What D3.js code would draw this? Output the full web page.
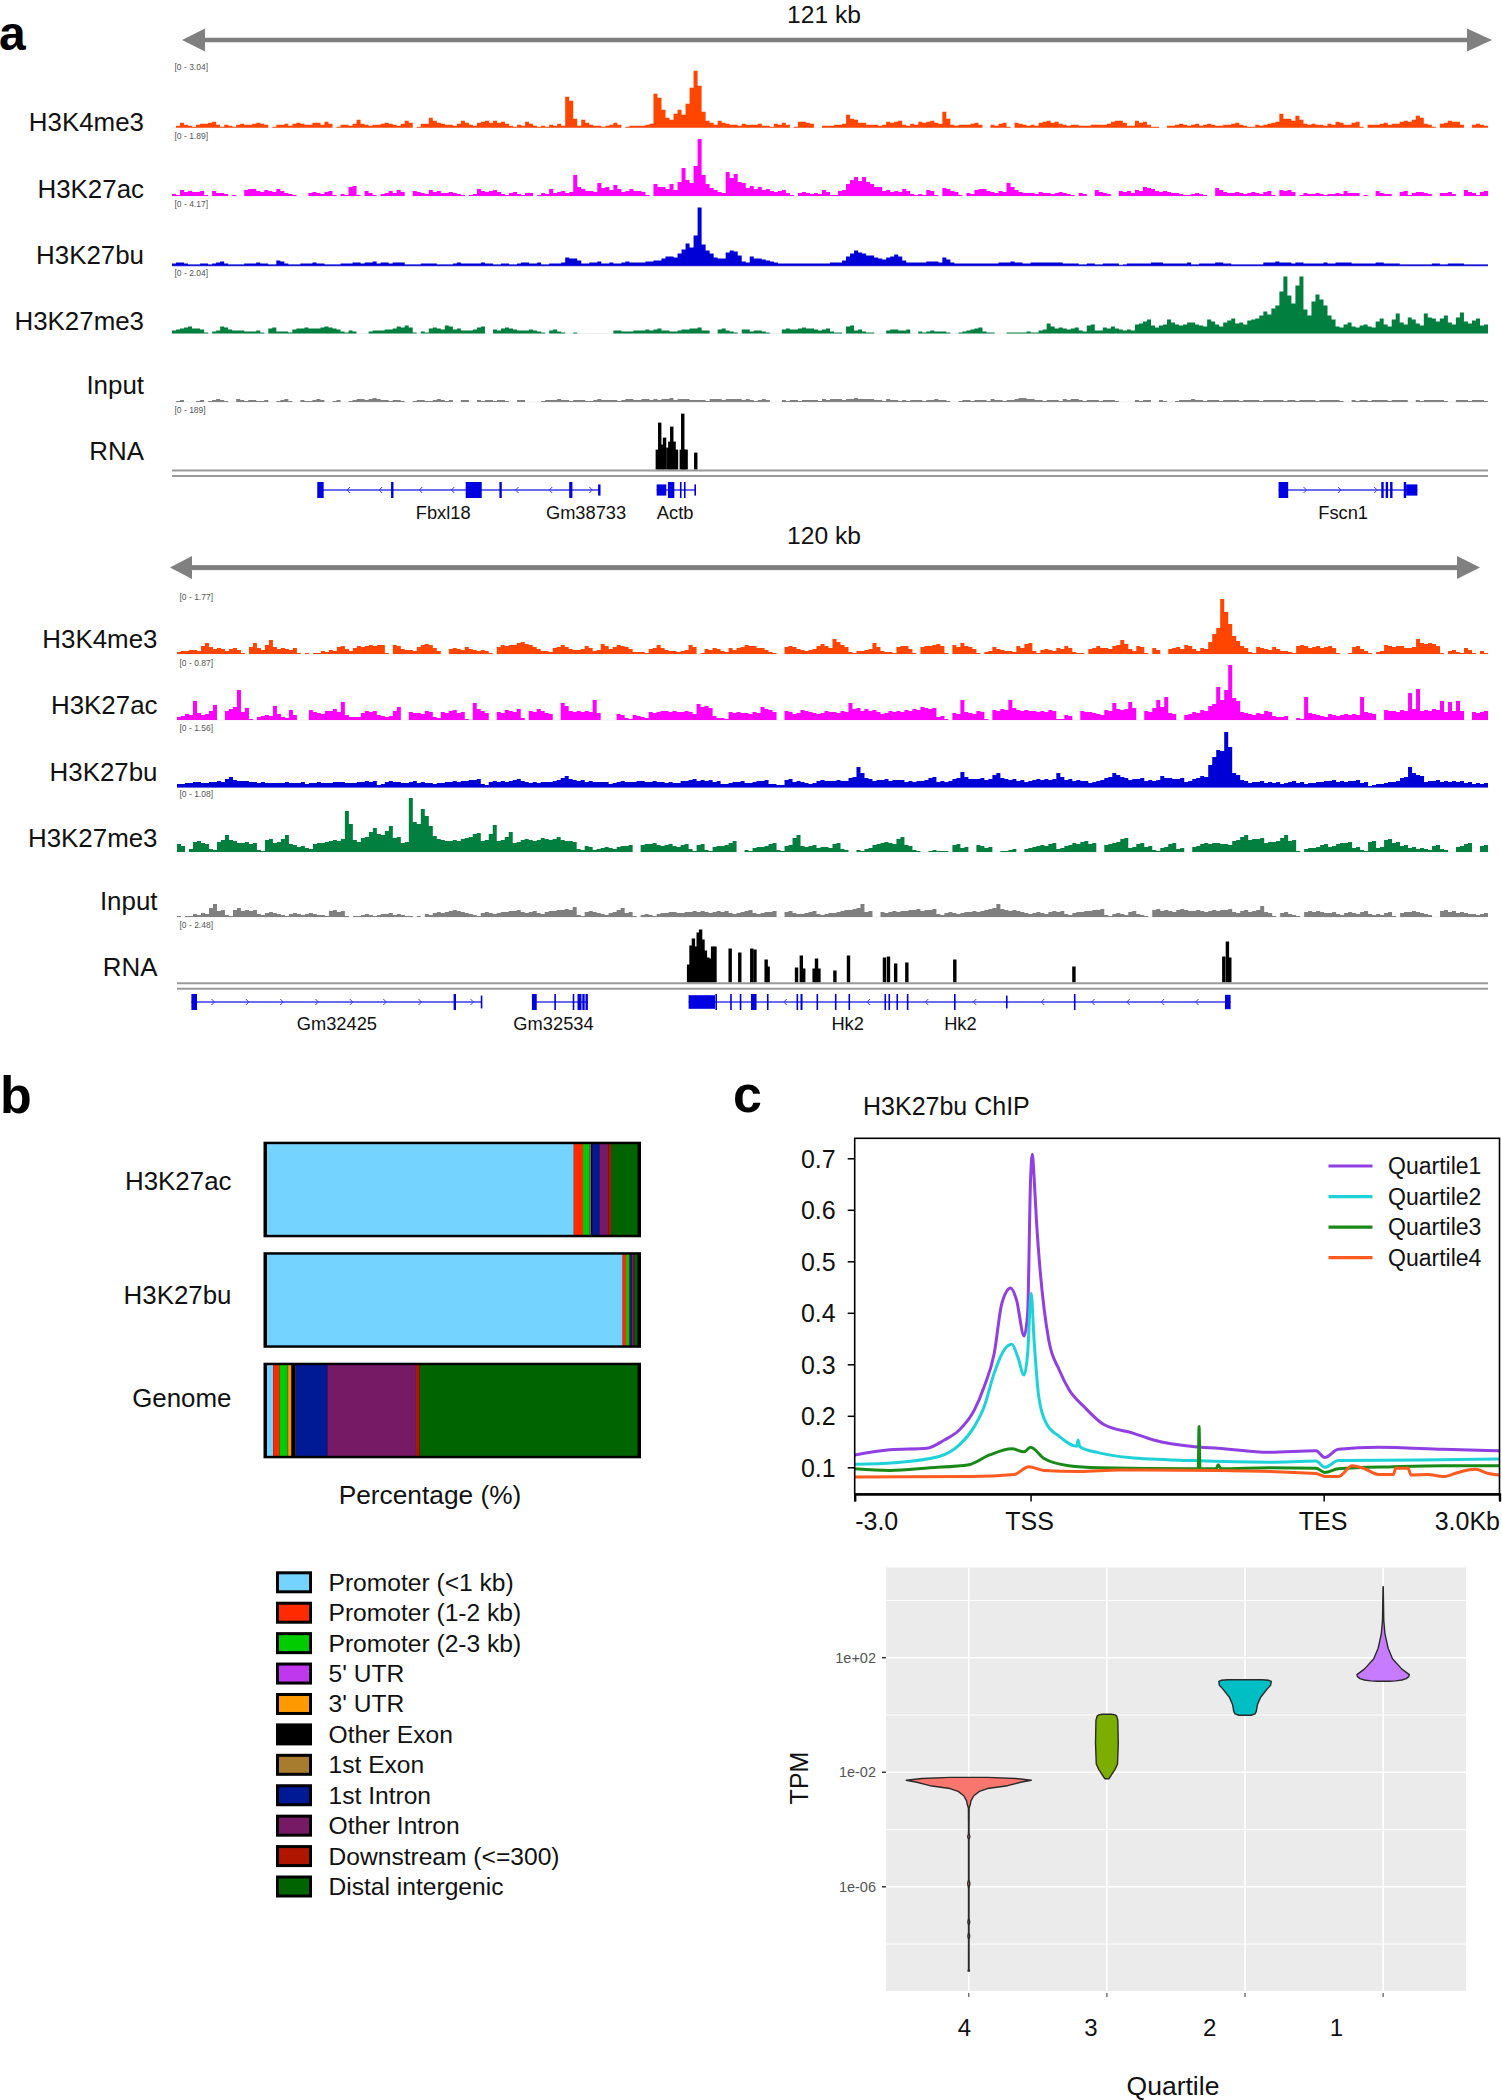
<!DOCTYPE html>
<html><head><meta charset="utf-8">
<script src="https://cdn.jsdelivr.net/npm/d3@7"></script>
<style>html,body{margin:0;background:#fff}svg{display:block}text{font-family:"Liberation Sans",Arial,sans-serif;fill:#111}</style>
</head><body><svg id="c" width="1502" height="2100" viewBox="0 0 1502 2100"></svg>
<script>
// ---------- panel a : signal read per 328 half-bins, 0-60 arbitrary height units ----------
const trackNames=["H3K4me3","H3K27ac","H3K27bu","H3K27me3","Input","RNA"];
const trackColors=["#ff4500","#ff00ff","#0000d6","#007f3f","#808080","#000000"];
const topRanges=["[0 - 3.04]","[0 - 1.89]","[0 - 4.17]","[0 - 2.04]","","[0 - 189]"];
const botRanges=["[0 - 1.77]","[0 - 0.87]","[0 - 1.56]","[0 - 1.08]","","[0 - 2.48]"];

const topK4=[0,2,5,3,2,1,3,4,4,5,6,3,1,3,2,1,3,4,3,3,
4,5,4,3,0,1,3,3,4,2,4,5,4,3,3,5,5,3,6,4,
0,1,3,3,2,4,8,4,3,2,3,3,4,5,4,3,2,4,7,5,
0,1,4,4,10,7,5,4,3,3,2,4,7,5,3,2,5,6,7,5,
7,5,6,4,2,1,3,2,6,4,2,1,2,1,3,2,4,2,31,27,
9,2,8,5,3,2,2,1,2,3,5,3,0,1,2,2,2,2,3,4,
34,30,18,10,8,14,18,13,24,40,57,42,16,7,5,3,7,5,4,3,
3,2,4,3,3,3,4,2,2,1,4,3,5,3,0,1,6,6,5,4,
0,0,2,2,2,3,3,4,13,9,8,5,5,3,3,3,2,3,6,5,
6,7,3,2,4,3,6,5,6,7,5,4,16,9,3,2,3,3,3,4,
5,3,0,0,3,2,4,5,1,0,5,4,3,2,3,2,5,6,7,5,
6,4,3,2,3,3,2,2,2,3,3,3,3,4,6,7,7,5,2,2,
7,5,6,3,1,1,0,0,2,2,3,4,3,2,3,4,2,3,4,3,
2,2,3,3,4,5,3,2,1,1,3,2,3,4,5,6,14,9,9,7,
12,8,4,3,4,3,3,2,4,3,6,5,3,3,5,6,1,0,3,3,
3,4,5,3,4,4,6,7,6,8,12,10,4,3,1,0,4,5,7,6,
6,3,0,0,3,4,3,2];
const topAc=[2,1,6,4,5,4,4,5,1,0,5,3,3,2,0,1,0,0,6,7,
7,5,4,6,5,4,7,5,3,2,1,0,0,0,3,4,3,2,4,5,
1,0,2,1,9,10,1,0,5,3,1,0,2,3,5,3,6,4,0,0,
5,4,3,2,6,4,5,3,3,4,3,2,1,0,1,2,7,5,4,5,
6,4,2,1,3,4,2,1,3,3,0,1,3,2,7,3,4,5,3,4,
21,9,7,5,5,4,13,8,9,6,11,7,4,5,7,5,5,4,1,0,
12,9,9,7,12,6,14,28,16,13,30,57,21,12,8,6,4,3,24,18,
22,14,13,8,10,7,9,6,7,5,4,5,6,3,1,0,3,4,3,2,
3,2,6,4,1,1,5,6,12,16,19,15,19,14,12,9,9,5,6,4,
5,4,7,5,2,1,2,1,6,5,1,0,8,7,5,4,1,0,3,2,
6,7,7,5,4,3,5,4,13,9,6,4,3,3,3,2,4,3,3,2,
3,4,3,2,1,0,3,2,0,0,6,4,3,2,0,0,5,4,5,3,
6,5,9,8,7,5,4,5,4,3,3,2,1,1,2,3,2,1,0,0,
8,6,4,3,3,4,3,2,3,4,3,2,4,5,1,0,6,5,6,4,
0,1,3,2,2,3,2,1,2,2,3,2,5,3,3,3,0,1,0,0,
5,3,2,2,0,0,4,5,1,3,4,4,3,2,0,0,3,3,4,2,
0,0,6,4,3,1,4,5];
const topBu=[2,3,3,2,1,1,1,2,2,1,2,3,4,2,1,1,1,1,2,2,
2,3,2,2,1,1,5,4,2,1,1,1,2,2,2,3,2,2,1,1,
1,1,2,2,2,3,3,2,3,3,4,2,3,3,2,3,3,3,1,1,
1,1,2,2,2,2,1,1,1,1,2,3,2,2,2,2,2,3,2,2,
1,1,2,2,1,1,2,3,3,2,2,3,1,1,2,2,2,3,8,7,
7,5,2,2,3,3,4,2,2,3,2,2,3,4,3,3,3,3,4,4,
5,5,7,9,9,8,12,16,22,18,30,58,21,15,12,8,7,7,13,15,
14,10,4,3,9,7,7,6,5,4,3,2,2,2,2,2,2,2,2,2,
2,2,2,2,3,3,3,5,9,12,15,13,12,10,10,8,7,6,8,9,
11,9,5,3,3,3,3,3,4,4,4,3,8,6,3,2,2,2,2,2,
2,2,2,2,2,2,3,3,3,4,3,3,2,2,3,3,3,3,3,3,
3,3,2,2,2,2,1,1,2,2,1,1,2,2,2,2,0,1,2,2,
2,2,2,2,3,3,3,2,2,2,2,2,2,3,1,1,2,2,2,2,
3,3,2,2,1,1,1,1,1,1,1,1,3,3,3,4,3,3,3,2,
3,3,2,2,2,2,2,3,2,2,3,3,3,3,2,2,2,2,2,2,
3,3,2,2,2,2,1,1,1,1,1,1,1,1,2,2,1,1,2,2,
2,2,1,1,1,1,1,1];
const topMe3=[3,4,5,6,7,5,5,4,1,0,2,3,7,6,4,3,3,3,2,2,
2,3,1,0,5,6,2,2,2,1,4,5,5,6,5,5,5,6,7,6,
5,4,2,1,3,2,0,0,0,2,3,3,3,4,4,5,7,6,8,6,
1,0,2,1,5,6,5,4,8,7,4,5,3,3,3,4,6,7,0,0,
4,3,5,6,5,4,3,3,3,4,3,2,1,0,3,4,2,1,0,0,
1,0,0,0,0,0,0,0,0,0,3,3,2,2,2,3,3,3,4,3,
4,5,3,3,2,2,3,4,4,5,5,6,3,3,0,0,4,5,3,2,
1,0,4,4,2,3,3,2,1,0,0,0,4,5,4,4,5,6,5,5,
4,3,4,5,2,1,1,0,7,8,3,4,2,1,1,0,0,0,3,4,
4,3,3,4,0,0,2,1,2,3,2,2,2,1,0,0,1,2,3,4,
5,6,2,1,1,0,0,0,1,1,1,1,1,2,1,1,3,4,10,7,
5,6,5,4,5,6,3,2,8,9,3,3,6,5,7,5,4,3,4,3,
9,10,12,14,8,6,8,9,14,11,9,8,9,11,11,9,8,7,14,12,
9,7,11,13,15,10,11,9,13,14,15,18,22,19,25,28,42,57,38,30,
48,57,24,18,32,39,34,28,18,14,7,6,9,11,7,6,8,9,7,6,
12,15,9,7,14,20,11,9,16,14,10,8,20,16,15,12,15,18,11,9,
16,21,12,10,13,15,8,9];
const topInput=[0,1,2,0,0,0,1,2,0,1,2,3,2,1,0,0,3,2,1,2,
2,1,1,2,0,0,1,2,3,1,0,0,2,1,1,2,3,2,0,0,
1,2,0,0,1,2,3,3,2,3,4,3,2,2,1,2,2,1,0,0,
1,2,2,1,1,2,3,2,1,2,0,0,2,2,0,0,2,1,2,2,
1,2,2,1,0,0,2,2,0,0,0,0,1,2,2,2,3,2,2,1,
2,2,2,1,1,2,3,2,2,2,2,1,2,3,3,2,2,3,3,2,
3,2,3,3,4,2,3,3,3,2,2,2,2,1,3,3,3,2,3,3,
3,3,2,3,2,1,2,3,2,0,0,0,2,1,2,2,1,2,2,2,
2,1,3,2,3,3,3,2,3,3,4,3,3,3,3,2,2,1,3,2,
2,1,2,1,2,2,2,1,2,2,3,2,2,1,0,0,1,2,2,1,
2,2,2,1,3,2,2,1,2,2,3,4,4,3,3,2,2,1,2,2,
2,1,3,2,3,3,2,1,2,2,2,1,2,2,2,1,0,0,0,0,
2,1,2,2,0,0,2,1,0,0,1,2,2,2,3,2,2,1,2,2,
2,1,2,2,2,2,1,2,2,2,2,1,2,2,2,2,2,1,2,2,
1,2,2,2,2,1,2,2,2,2,2,1,0,0,2,1,2,2,1,2,
2,2,2,1,2,2,2,2,0,0,2,1,2,2,2,2,2,1,0,0,
2,2,2,1,2,2,2,1];

const botK4=[2,3,3,4,4,3,8,11,7,5,6,5,3,5,6,4,1,0,7,11,
6,4,9,14,7,5,6,5,4,6,1,0,1,0,1,1,3,2,4,3,
7,8,5,3,6,8,7,8,9,8,9,9,1,0,9,8,5,4,4,3,
7,9,10,9,6,3,0,0,5,6,5,4,7,5,4,3,4,3,1,0,
7,9,8,9,9,11,12,10,9,7,5,3,3,2,6,7,9,7,5,4,
4,5,8,6,3,4,10,8,5,7,9,8,7,5,2,2,2,1,5,6,
9,6,4,3,3,2,3,4,9,7,0,1,5,4,6,5,3,2,6,4,
6,7,9,8,8,6,6,4,2,1,0,0,7,8,7,5,4,3,4,5,
8,10,8,6,15,12,9,7,2,1,3,3,4,5,11,7,3,2,2,1,
7,8,8,5,1,0,7,8,8,9,10,8,1,0,9,7,11,8,7,5,
1,0,2,3,7,5,4,3,3,2,8,6,10,11,3,1,4,5,4,3,
6,5,8,6,2,1,1,0,5,6,8,6,6,5,8,9,14,10,5,3,
8,7,1,0,6,4,0,0,5,6,7,5,9,8,5,3,6,5,12,20,
26,55,42,30,18,13,8,6,2,1,7,6,5,4,7,5,3,3,2,1,
8,9,8,6,7,8,6,7,8,6,1,0,0,1,7,8,5,3,1,0,
2,3,9,8,7,8,8,6,6,7,15,11,10,11,10,8,1,0,3,4,
2,1,6,4,1,0,3,1];
const botAc=[3,4,6,5,19,7,5,6,9,15,0,0,9,11,13,30,8,12,1,0,
3,4,5,4,14,6,3,2,10,5,0,0,0,10,8,7,6,9,9,11,
8,18,5,3,3,3,7,9,8,9,5,4,3,4,9,13,0,0,8,7,
7,6,9,8,3,2,8,7,9,10,7,8,1,0,17,11,9,7,0,0,
8,7,10,9,8,11,2,0,9,8,11,9,7,6,0,0,17,14,9,8,
9,8,9,8,20,7,0,0,0,0,6,5,2,1,5,4,3,2,8,7,
8,9,9,8,9,8,8,9,8,6,16,13,14,12,4,2,2,1,8,7,
8,7,7,6,8,7,13,11,10,8,0,0,9,8,6,7,10,9,8,7,
6,7,9,8,8,7,9,8,17,11,12,9,11,9,10,8,6,7,9,8,
9,8,10,9,11,10,13,12,11,12,3,4,1,0,7,6,20,8,7,6,
9,8,1,0,10,9,11,10,20,12,10,9,10,9,9,8,9,8,10,9,
1,1,5,4,0,0,9,8,8,7,6,5,10,9,17,11,10,11,18,12,
0,0,9,8,12,20,13,23,7,6,0,0,5,6,8,7,10,9,14,16,
33,20,30,55,22,19,8,7,6,5,7,6,9,8,4,3,3,4,0,0,
2,1,23,7,6,5,4,3,6,5,4,5,6,5,6,5,23,8,7,6,
0,0,10,9,9,8,10,9,27,11,31,9,10,9,11,10,19,8,18,9,
19,9,0,0,8,7,8,9];
const botBu=[3,3,4,4,5,5,4,4,5,5,6,5,8,10,7,6,6,6,5,5,
4,5,4,4,4,4,4,5,4,4,4,5,3,4,4,5,4,4,4,5,
5,5,4,4,4,5,5,6,5,6,2,3,5,6,5,5,4,4,5,6,
4,5,4,4,3,4,4,5,5,6,5,6,6,7,7,8,3,2,5,6,
5,6,5,6,7,8,6,5,4,5,4,5,5,5,6,7,9,11,8,7,
6,7,5,6,5,5,5,5,3,4,5,6,5,5,5,6,6,5,5,6,
5,5,4,5,4,4,6,6,7,8,6,7,6,7,5,6,3,3,4,5,
5,6,4,4,5,6,6,7,3,3,2,2,7,8,5,6,5,4,3,4,
6,7,6,6,6,7,6,6,9,10,20,14,9,8,6,7,7,8,6,7,
7,7,5,6,5,6,6,7,9,10,5,6,5,6,8,9,15,10,8,8,
8,9,7,8,12,14,9,8,7,8,6,7,5,6,7,8,7,8,7,8,
14,10,7,8,6,7,6,6,4,5,6,7,9,10,14,12,10,9,7,8,
8,9,6,7,6,7,11,9,9,8,8,9,5,6,8,9,11,10,22,30,
37,36,55,40,14,12,7,6,4,5,5,6,4,5,4,5,3,4,5,6,
4,5,3,4,4,5,5,6,6,7,5,6,5,6,6,7,4,5,1,2,
3,3,4,5,5,6,9,10,20,14,12,11,5,6,6,7,5,6,5,6,
5,6,4,5,3,4,3,4];
const botMe3=[8,6,0,3,10,11,9,8,3,2,10,12,17,12,11,9,9,10,8,9,
2,1,12,13,9,10,13,17,8,7,5,6,4,3,8,9,9,10,11,12,
11,13,41,28,12,10,14,15,20,24,18,17,21,26,14,15,9,10,54,30,
28,43,36,26,16,13,12,11,11,12,11,13,14,15,18,19,11,12,18,27,
11,12,15,20,9,10,12,13,12,11,12,14,13,12,13,15,12,11,11,10,
3,2,6,5,2,3,4,5,4,3,5,6,6,7,0,0,7,8,8,9,
7,6,7,8,6,5,7,8,3,1,7,8,2,1,5,6,6,7,9,11,
0,0,2,1,4,5,5,6,8,9,2,1,6,7,14,17,6,5,6,7,
4,5,5,4,8,9,3,2,0,0,2,1,3,4,7,8,9,10,9,8,
13,15,7,6,2,1,0,0,1,2,1,1,1,0,7,8,4,5,0,0,
7,6,4,5,0,0,1,1,2,3,0,0,3,4,5,6,7,6,8,9,
3,4,6,7,9,8,10,11,8,9,0,0,7,8,9,10,13,14,4,5,
8,9,5,6,2,1,4,5,8,9,3,4,0,0,5,6,8,9,8,9,
9,8,8,7,11,12,15,17,12,13,13,14,9,10,10,11,14,17,11,12,
1,0,3,4,4,5,7,8,5,6,8,9,9,10,4,5,2,1,10,11,
4,5,12,13,9,10,6,7,4,5,3,4,3,2,6,7,3,2,0,0,
5,6,8,9,0,0,6,7];
const botInput=[1,0,1,1,3,2,4,3,9,13,6,7,2,1,7,9,6,7,6,7,
3,2,4,5,4,3,2,1,3,4,3,2,3,4,3,2,2,1,6,7,
5,6,1,0,1,1,2,3,2,1,2,3,3,4,2,3,2,1,1,0,
1,0,3,2,4,5,4,5,6,7,6,5,4,3,2,1,4,5,4,3,
4,5,5,6,6,7,5,4,5,6,4,3,5,6,6,7,7,8,7,10,
2,1,5,6,5,4,3,2,4,5,7,9,4,5,1,0,2,3,2,1,
3,4,4,5,5,4,4,5,5,6,5,6,5,4,5,6,5,6,4,3,
4,5,6,7,4,3,4,5,5,6,0,0,5,6,4,3,3,4,5,6,
3,2,3,4,4,5,6,7,7,8,9,13,5,6,0,0,5,4,5,6,
5,6,6,7,7,8,6,7,7,8,3,2,4,5,4,3,4,5,5,6,
5,6,7,8,9,13,8,7,6,7,6,5,4,3,4,5,4,3,5,6,
5,6,3,2,4,5,5,6,6,7,7,8,2,1,3,4,3,2,5,6,
3,2,1,0,7,8,6,7,6,5,7,8,7,6,6,7,6,5,6,7,
6,7,7,8,5,4,6,7,5,6,7,11,5,4,1,0,4,5,3,2,
1,0,5,6,5,6,5,4,4,5,3,2,4,5,4,3,5,6,3,2,
3,2,4,5,1,0,4,5,5,6,5,4,3,2,0,0,6,7,5,6,
4,5,4,3,3,2,3,4];

const topRnaPos=[60.48,60.78,61.08,61.38,61.8,62.04,62.28,62.57,62.87,63.47,63.65,63.83,64.07,65.27];
const topRnaVal=[20,47,25,32,22,28,43,28,20,20,56,20,20,17];
const botRnaPos=[64,64.3,64.6,64.9,65.2,65.5,65.8,66.1,66.4,66.7,67,67.3,69.2,70.4,71.9,72.3,73.7,73.95,77.5,78.1,78.4,79.7,80,80.3,82.3,84,88.5,89,89.9,91.3,97.3,112.2,130.95,131.4,131.7];
const botRnaVal=[18,37,44,36,50,53,43,32,25,24,36,36,34,30,34,33,23,16,15,27,14,14,24,14,12,27,25,26,19,20,23,16,26,41,25];

// gene models (bin coordinates): [start,end], exons [start,end,relative height], chevrons with direction
const topGenes=[
 {line:[18.25,53.3],exons:[[18.1,18.9,1],[27.3,27.6,1],[36.6,38.6,1],[40.8,41.1,1],[49.5,49.9,1],[53.1,53.4,.7]],fwd:[52.2],rev:[22,26,31,35,43,47.2]},
 {line:[60.4,65.3],exons:[[60.4,61.6,.7],[61.8,62.6,1],[63.3,63.5,1],[63.8,64,1],[65.1,65.3,.7]],fwd:[],rev:[]},
 {line:[137.9,155.2],exons:[[137.9,139.1,1],[150.7,151,1],[151.25,151.55,1],[151.8,152.1,1],[153.5,153.8,1],[153.8,155.2,.7]],fwd:[141.2,145.5,150],rev:[]}
];
const botGenes=[
 {line:[1.8,38.1],exons:[[1.8,2.5,1],[34.6,34.9,1],[38,38.15,.8]],fwd:[4.5,8.8,13.1,17.5,21.8,26,30.4,36.9],rev:[]},
 {line:[44.4,51.4],exons:[[44.4,45,1],[47.2,47.4,1],[49.5,49.6,1],[50.1,50.6,1],[50.7,51,1],[51.1,51.4,1]],fwd:[],rev:[]},
 {line:[64,131.8],exons:[[64,67.3,.85],[67.35,67.55,1],[69.2,69.4,1],[70.4,70.6,1],[71.8,72.5,1],[73.8,74,1],[77.5,77.7,1],[78,78.25,1],[80,80.2,1],[82.3,82.45,1],[84,84.2,1],[88.5,88.7,1],[89,89.2,1],[90,90.15,1],[91.3,91.5,1],[97.2,97.4,1],[103.7,103.85,.8],[112.2,112.4,1],[131.1,131.8,.9]],fwd:[],rev:[76.1,86.5,93.8,99.8,108.3,114.6,119,123.3,127.6]}
];
const topGeneNames=["Fbxl18","Gm38733","Actb","Fscn1"];
const topGeneAt=[33.8,51.6,62.7,145.95];
const botGeneNames=["Gm32425","Gm32534","Hk2","Hk2"];
const botGeneAt=[20,47.1,83.9,98];

// ---------- panel b ----------
const partCategories=["Promoter (<1 kb)","Promoter (1-2 kb)","Promoter (2-3 kb)","5' UTR","3' UTR","Other Exon","1st Exon","1st Intron","Other Intron","Downstream (<=300)","Distal intergenic"];
const partColors=["#75d3ff","#ff2a00","#00cc00","#c038ee","#ff9900","#000000","#a87c2e","#001a96","#771a66","#b01500","#006400"];
const partSamples=["H3K27ac","H3K27bu","Genome"];
const shareH3K27ac=[82.8,2.5,1.8,.3,.05,.35,.05,1.9,2.4,.7,7.15];
const shareH3K27bu=[96,.9,.8,.1,.1,.1,.1,.4,.5,.2,.8];
const shareGenome=[1.7,1.7,2.2,.1,.9,1.1,.1,8.5,23.9,1,58.8];

// ---------- panel c, profile ----------
const profileNames=["Quartile1","Quartile2","Quartile3","Quartile4"];
const profileColors=["#8f3fe2","#1fd2d8","#178a17","#ff5a1f"];
const profileTicks=[-3,0,5,8];
const profileTickLabels=["-3.0","TSS","TES","3.0Kb"];
const q1Kb=[-3,-2.4,-1.77,-1.47,-1.22,-.96,-.79,-.62,-.49,-.34,-.24,-.11,-.05,0,.03,.06,.1,.14,.31,.49,.66,.91,1.25,1.76,2.1,2.8,3.2,4.07,4.87,5.02,5.25,5.93,7.04,8];
const q1Val=[.124,.134,.137,.153,.172,.211,.257,.321,.418,.448,.425,.355,.399,.658,.708,.664,.58,.515,.347,.289,.25,.218,.183,.166,.153,.14,.137,.129,.132,.119,.135,.139,.135,.132];
const q2Kb=[-3,-2.32,-1.56,-1.22,-.96,-.79,-.62,-.45,-.32,-.22,-.11,-.05,.01,.06,.14,.27,.49,.79,.81,.84,1.17,1.68,2.77,4.07,4.87,5.02,5.25,6.62,8];
const q2Val=[.106,.109,.121,.143,.179,.218,.283,.328,.339,.315,.279,.321,.438,.347,.237,.185,.16,.141,.153,.14,.128,.119,.113,.11,.112,.1,.113,.114,.116];
const q3Kb=[-3,-2.4,-1.72,-1.05,-.7,-.32,-.11,0,.23,.65,1.17,2.77,2.86,2.875,2.89,3.17,3.2,3.25,4.07,4.87,5.02,5.25,6.19,7.04,8];
const q3Val=[.097,.094,.099,.105,.124,.136,.13,.139,.117,.103,.099,.097,.097,.179,.097,.097,.105,.097,.099,.098,.09,.097,.101,.103,.103];
const q4Kb=[-3,-1.04,-.28,-.03,.23,.83,1.51,3.2,4.87,5.04,5.25,5.49,5.68,5.94,6.19,6.23,6.44,6.49,6.78,7.04,7.29,7.59,7.81,8];
const q4Val=[.081,.082,.086,.101,.094,.092,.095,.094,.088,.082,.082,.103,.098,.086,.086,.098,.098,.085,.086,.082,.09,.096,.088,.085];

// ---------- panel c, violins (log10 TPM, relative width) ----------
const violinGroups=["4","3","2","1"];
const violinColors=["#F8766D","#7CAE00","#00BFC4","#C77CFF"];
const violin4Log=[-2.18,-2.22,-2.28,-2.35,-2.47,-2.57,-2.67,-2.82,-3.0,-3.12,-3.25,-4.04,-4.16,-4.25,-4.35,-5.76,-5.88,-6.06,-7.1,-7.23,-7.35,-7.6,-7.72,-7.84,-8.88,-8.94];
const violin4Width=[.3,.75,1,.83,.62,.3,.17,.08,.035,.025,.006,.004,.006,.018,.004,.004,.018,.004,.004,.015,.004,.004,.015,.004,.004,.012];
const violin3Log=[.027,.002,-.034,-.18,-.98,-1.71,-1.9,-2.14,-2.23];
const violin3Width=[.08,.13,.155,.175,.182,.17,.13,.06,.03];
const violin2Log=[1.23,1.21,1.17,1.04,.92,.62,.37,.125,.04,-.01];
const violin2Width=[.28,.38,.42,.41,.36,.25,.2,.18,.16,.1];
const violin1Log=[4.48,3.31,2.82,2.33,1.96,1.6,1.41,1.34,1.27,1.22,1.19,1.18];
const violin1Width=[.002,.01,.03,.08,.15,.3,.42,.41,.37,.3,.2,.1];
const violinMajor=[2,-2,-6];
const violinMajorLabels=["1e+02","1e-02","1e-06"];
const violinMinor=[4,0,-4,-8];

const svg=d3.select("#c");
const label=(x,y,t,size,anchor,extra)=>{const e=svg.append("text").attr("x",x).attr("y",y).attr("font-size",size).attr("text-anchor",anchor||"start").text(t);if(extra)extra(e);return e;};

// panel letters
label(-1,50,"a",48,"start",e=>e.attr("font-weight","bold").style("fill","#000"));
label(0,1113,"b",52,"start",e=>e.attr("font-weight","bold").style("fill","#000"));
label(733,1112,"c",52,"start",e=>e.attr("font-weight","bold").style("fill","#000"));

function arrow(x0,hb0,hb1,x1,y,half,th){
 svg.append("rect").attr("x",hb0).attr("y",y-th/2).attr("width",hb1-hb0).attr("height",th).attr("fill","#808080");
 svg.append("path").attr("d",d3.line()([[x0,y],[hb0,y-half],[hb0,y+half]])).attr("fill","#808080");
 svg.append("path").attr("d",d3.line()([[x1,y],[hb1,y-half],[hb1,y+half]])).attr("fill","#808080");
}

function block(cfg){
 const x=d3.scaleLinear().domain([0,164]).range([cfg.x0,1488]);
 arrow(cfg.arrow[0],cfg.arrow[1],cfg.arrow[2],cfg.arrow[3],cfg.arrowY,11.5,cfg.arrowTh);
 label(824,cfg.kbY,cfg.kb,24.6,"middle");
 cfg.series.forEach((vals,i)=>{
  const base=cfg.bases[i],col=trackColors[i];
  const y=d3.scaleLinear().domain([0,60]).range([base,base-60]);
  label(cfg.labelX,cfg.labelY[i],trackNames[i],25.9,"end");
  if(cfg.ranges[i]) label(cfg.rangeX,cfg.rangeY[i],cfg.ranges[i],8.5,"start",e=>e.style("fill","#555"));
  const step=vals.concat(vals[vals.length-1]);
  svg.append("line").attr("x1",x(0)).attr("x2",x(164)).attr("y1",base).attr("y2",base).attr("stroke",i==2?col:"#eee").attr("stroke-width",i==2?1.5:1).attr("opacity",i==2?.8:1);
  svg.append("path").attr("d",d3.area().curve(d3.curveStepAfter).x((d,j)=>x(j/2)).y0(base).y1(d=>y(d))(step)).attr("fill",col);
 });
 // RNA
 const base=cfg.bases[5];
 const yR=d3.scaleLinear().domain([0,60]).range([base,base-60]);
 label(cfg.labelX,cfg.labelY[5],trackNames[5],25.9,"end");
 label(cfg.rangeX,cfg.rangeY[5],cfg.ranges[5],8.5,"start",e=>e.style("fill","#555"));
 svg.selectAll(null).data(cfg.rnaPos).join("rect").attr("x",d=>x(d)-1.7).attr("width",3.4).attr("y",(d,k)=>yR(cfg.rnaVal[k])).attr("height",(d,k)=>base-yR(cfg.rnaVal[k])).attr("fill","#000");
 [base+.8,base+6.3].forEach(v=>svg.append("line").attr("x1",x(0)).attr("x2",x(164)).attr("y1",v).attr("y2",v).attr("stroke","#9a9a9a").attr("stroke-width",2));
 // genes
 const gy=cfg.geneY;
 cfg.genes.forEach(g=>{
  svg.append("line").attr("x1",x(g.line[0])).attr("x2",x(g.line[1])).attr("y1",gy).attr("y2",gy).attr("stroke","#3a3ae8").attr("stroke-width",1.4);
  svg.selectAll(null).data(g.exons).join("rect").attr("x",d=>x(d[0])).attr("width",d=>Math.max(1.6,x(d[1])-x(d[0]))).attr("y",d=>gy-8*d[2]).attr("height",d=>16*d[2]).attr("fill","#0000e0");
  const chev=(arr,dir)=>svg.selectAll(null).data(arr).join("path").attr("d",d=>d3.line()([[x(d)-dir*1.5,gy-3],[x(d)+dir*1.5,gy],[x(d)-dir*1.5,gy+3]])).attr("fill","none").attr("stroke","#3a3ae8").attr("stroke-width",1);
  chev(g.fwd,1);chev(g.rev,-1);
 });
 cfg.geneNames.forEach((n,i)=>label(x(cfg.geneAt[i]),cfg.geneLabelY,n,18.3,"middle"));
}

block({x0:172,arrow:[182,205,1467,1492],arrowY:40,arrowTh:4.5,kb:"121 kb",kbY:22.5,labelX:144,
 labelY:[131,197.5,264,330,394,460],bases:[127.7,196,265.5,333.5,402,469.6],rangeX:174.5,rangeY:[70,139,207,276,0,413],
 ranges:topRanges,series:[topK4,topAc,topBu,topMe3,topInput],rnaPos:topRnaPos,rnaVal:topRnaVal,
 genes:topGenes,geneY:490,geneNames:topGeneNames,geneAt:topGeneAt,geneLabelY:519});
block({x0:177,arrow:[170,192,1457,1480],arrowY:567.6,arrowTh:5,kb:"120 kb",kbY:544,labelX:157.5,
 labelY:[648,714,781,846.5,910,975.5],bases:[654,720,787,852,917,982.5],rangeX:179.5,rangeY:[600,666,731,797,0,928],
 ranges:botRanges,series:[botK4,botAc,botBu,botMe3,botInput],rnaPos:botRnaPos,rnaVal:botRnaVal,
 genes:botGenes,geneY:1002,geneNames:botGeneNames,geneAt:botGeneAt,geneLabelY:1030});

// panel b stacked bars
const partRows=[shareH3K27ac,shareH3K27bu,shareGenome].map((r,i)=>{const o={sample:partSamples[i]};partCategories.forEach((c,j)=>o[c]=r[j]);return o;});
const partStack=d3.stack().keys(partCategories)(partRows);
const partX=d3.scaleLinear().domain([0,100]).range([267,637.5]);
const partY=d3.scaleBand().domain(partSamples).range([1141.7,1458.3]).paddingInner(.135);
partSamples.forEach(s=>svg.append("rect").attr("x",partX(0)-2).attr("y",partY(s)+1.5).attr("width",partX(100)-partX(0)+4).attr("height",partY.bandwidth()-3).attr("fill","#000").attr("stroke","#000").attr("stroke-width",3));
svg.selectAll(null).data(partStack).join("g").attr("fill",(d,i)=>partColors[i]).selectAll("rect").data(d=>d).join("rect")
 .attr("x",d=>partX(d[0])).attr("width",d=>partX(d[1])-partX(d[0])).attr("y",d=>partY(d.data.sample)+2.5).attr("height",partY.bandwidth()-5);
const partLabelY={"H3K27ac":1189.5,"H3K27bu":1303.5,"Genome":1406.5};
partSamples.forEach(s=>label(231.5,partLabelY[s],s,25.9,"end"));
label(430,1504,"Percentage (%)",26.3,"middle");

// legend
const legendY=d3.scalePoint().domain(partCategories).range([1582.3,1886.5]);
partCategories.forEach((c,i)=>{
 svg.append("rect").attr("x",277.5).attr("y",legendY(c)-9.5).attr("width",33).attr("height",19).attr("fill",partColors[i]).attr("stroke","#000").attr("stroke-width",3);
 label(328.5,legendY(c)+8.5,c,24.6,"start");
});

// panel c profile
const pX=d3.scaleLinear().domain([-3,8]).range([854.7,1499.5]);
const pY=d3.scaleLinear().domain([.1,.7]).range([1467.3,1158.3]);
const pBottom=1494,pTop=1138.3;
const profLine=d3.line().curve(d3.curveMonotoneX).x(d=>pX(d[0])).y(d=>pY(d[1]));
[[q1Kb,q1Val],[q2Kb,q2Val],[q3Kb,q3Val],[q4Kb,q4Val]].forEach((s,i)=>{
 svg.append("path").attr("d",profLine(s[0].map((k,j)=>[k,s[1][j]]))).attr("fill","none").attr("stroke",profileColors[i]).attr("stroke-width",3);
});
svg.append("rect").attr("x",pX(-3)).attr("y",pTop).attr("width",pX(8)-pX(-3)).attr("height",pBottom-pTop).attr("fill","none").attr("stroke","#000").attr("stroke-width",1.6);
const yAxis=svg.append("g").attr("transform",`translate(${pX(-3)},0)`).call(d3.axisLeft(pY).tickValues([.1,.2,.3,.4,.5,.6,.7]).tickFormat(d3.format(".1f")).tickSize(7).tickPadding(12));
yAxis.select(".domain").remove();
yAxis.selectAll("text").attr("font-size",25).attr("dy",".36em").style("font-family",'"Liberation Sans"').style("fill","#111");
yAxis.selectAll("line").attr("stroke-width",1.5);
const xAxis=svg.append("g").attr("transform",`translate(0,${pBottom})`).call(d3.axisBottom(pX).tickValues(profileTicks).tickFormat((d,i)=>profileTickLabels[i]).tickSize(7.5).tickPadding(10));
xAxis.select(".domain").attr("stroke-width",2.4);
xAxis.selectAll("line").attr("stroke-width",1.5);
xAxis.selectAll("text").attr("font-size",25).attr("dy",0).attr("y",36).style("font-family",'"Liberation Sans"').style("fill","#111")
 .attr("text-anchor",(d,i)=>i==0?"start":i==3?"end":"middle").attr("dx",(d,i)=>i==1?-1.5:i==2?-1:0);
label(863,1115,"H3K27bu ChIP",25,"start");
const profLegendY=d3.scalePoint().domain(profileNames).range([1166,1257.7]);
profileNames.forEach((n,i)=>{
 svg.append("line").attr("x1",1328.5).attr("x2",1372.5).attr("y1",profLegendY(n)).attr("y2",profLegendY(n)).attr("stroke",profileColors[i]).attr("stroke-width",3.2);
 label(1388,profLegendY(n)+8,n,23,"start");
});

// violins
const vX=d3.scalePoint().domain(violinGroups).range([885.9,1466]).padding(.6);
const vLabelX=d3.scaleOrdinal().domain(violinGroups).range([964.5,1091,1209.6,1336.4]);
const vY=d3.scaleLog().domain([Math.pow(10,-9.64),Math.pow(10,5.15)]).range([1991,1567.5]);
const vW=d3.scaleLinear().domain([0,1]).range([0,62.5]);
svg.append("rect").attr("x",885.9).attr("y",1567.5).attr("width",580.1).attr("height",423.5).attr("fill","#ebebeb");
violinMinor.forEach(l=>svg.append("line").attr("x1",885.9).attr("x2",1466).attr("y1",vY(Math.pow(10,l))).attr("y2",vY(Math.pow(10,l))).attr("stroke","#fff").attr("stroke-width",.9));
violinMajor.forEach(l=>svg.append("line").attr("x1",885.9).attr("x2",1466).attr("y1",vY(Math.pow(10,l))).attr("y2",vY(Math.pow(10,l))).attr("stroke","#fff").attr("stroke-width",1.6));
violinGroups.forEach(g=>svg.append("line").attr("x1",vX(g)).attr("x2",vX(g)).attr("y1",1567.5).attr("y2",1991).attr("stroke","#fff").attr("stroke-width",1.6));
[[violin4Log,violin4Width],[violin3Log,violin3Width],[violin2Log,violin2Width],[violin1Log,violin1Width]].forEach((v,i)=>{
 const g=violinGroups[i],pts=v[0].map((l,j)=>[l,v[1][j]]);
 const path=d3.area().curve(d3.curveLinear).y(d=>vY(Math.pow(10,d[0]))).x0(d=>vX(g)-vW(d[1])).x1(d=>vX(g)+vW(d[1]))(pts);
 svg.append("path").attr("d",path).attr("fill",violinColors[i]).attr("stroke","#2a2a2a").attr("stroke-width",1.4).attr("stroke-linejoin","round");
});
violinMajor.forEach((l,i)=>{
 svg.append("line").attr("x1",882).attr("x2",885.9).attr("y1",vY(Math.pow(10,l))).attr("y2",vY(Math.pow(10,l))).attr("stroke","#333").attr("stroke-width",1.5);
 label(876,vY(Math.pow(10,l))+5,violinMajorLabels[i],14.5,"end",e=>e.style("fill","#555"));
});
violinGroups.forEach(g=>{
 svg.append("line").attr("x1",vX(g)).attr("x2",vX(g)).attr("y1",1993).attr("y2",1997).attr("stroke","#555").attr("stroke-width",1.2);
 label(vLabelX(g),2036,g,24,"middle");
});
label(1173,2095,"Quartile",26.5,"middle");
svg.append("text").attr("transform","translate(808,1778) rotate(-90)").attr("text-anchor","middle").attr("font-size",25).text("TPM");
</script></body></html>
